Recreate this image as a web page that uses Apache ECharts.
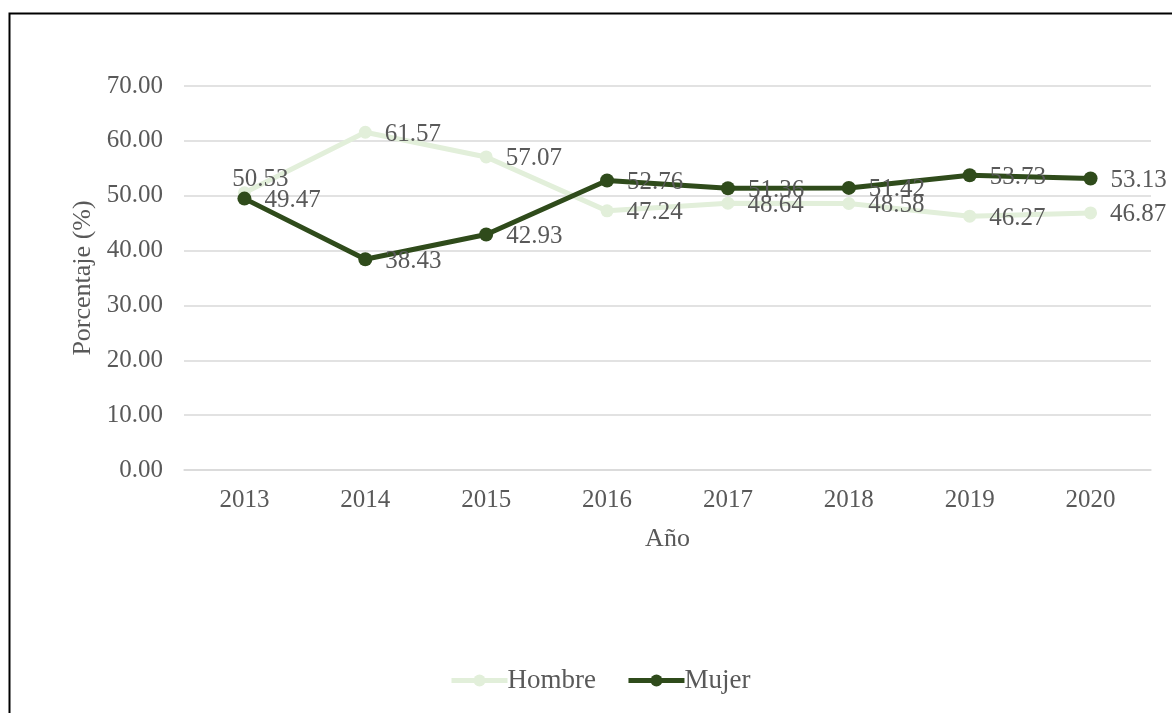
<!DOCTYPE html>
<html><head><meta charset="utf-8">
<script src="https://cdn.jsdelivr.net/npm/echarts@6/dist/echarts.min.js"></script>
<style>html,body{margin:0;padding:0;background:#fff}#c{width:1172px;height:713px}</style>
</head><body><div id="c"></div>
<script>
const years = ['2013','2014','2015','2016','2017','2018','2019','2020'];
const hombre = [50.53, 61.57, 57.07, 47.24, 48.64, 48.58, 46.27, 46.87];
const mujer = [49.47, 38.43, 42.93, 52.76, 51.36, 51.42, 53.73, 53.13];
const seriesNames = ['Hombre', 'Mujer'];
const yTitle = 'Porcentaje (%)';
const xTitle = 'Año';

const FONT = 'Liberation Serif';
const TXT = '#595959';
const LIGHT = '#e2efda';
const DARK = '#2f4b1b';
const FS = 25;
const chart = echarts.init(document.getElementById('c'));
const lbl = {
  show: true, position: 'right', distance: 13, offset: [0, 2],
  fontFamily: FONT, fontSize: FS, color: TXT,
  formatter: p => p.value.toFixed(2)
};
chart.setOption({
  animation: false,
  backgroundColor: '#fff',
  textStyle: { fontFamily: FONT, color: TXT },
  graphic: [{
    type: 'rect', left: 7, top: 11, z: 100, silent: true,
    shape: { width: 1190, height: 720 },
    style: { fill: 'none', stroke: '#000', lineWidth: 2 }
  }],
  grid: { left: 184, right: 21, top: 86, bottom: 243, containLabel: false },
  legend: {
    left: 444, top: 662,
    itemWidth: 56, itemHeight: 15, itemGap: 30,
    lineStyle: { width: 5 },
    textStyle: { fontFamily: FONT, fontSize: 27, color: TXT, padding: [0, 0, 0, -5] },
    data: seriesNames
  },
  xAxis: {
    type: 'category', data: years, boundaryGap: true,
    name: xTitle, nameLocation: 'middle', nameGap: 56,
    nameTextStyle: { fontFamily: FONT, fontSize: 26, color: TXT },
    axisLine: { show: true, lineStyle: { color: '#d9d9d9', width: 1.5 } },
    axisTick: { show: false },
    axisLabel: { fontFamily: FONT, fontSize: FS, color: TXT, margin: 18 }
  },
  yAxis: {
    type: 'value', min: 0, max: 70, interval: 10,
    name: yTitle, nameLocation: 'middle', nameGap: 86, nameRotate: 90,
    nameTextStyle: { fontFamily: FONT, fontSize: 26, color: TXT },
    axisLine: { show: false }, axisTick: { show: false },
    axisLabel: { fontFamily: FONT, fontSize: FS, color: TXT, margin: 21,
      formatter: v => v.toFixed(2) },
    splitLine: { lineStyle: { color: '#d9d9d9', width: 1.5 } }
  },
  series: [
    {
      name: seriesNames[0], type: 'line',
      data: hombre.map((v, i) => i === 0 ? { value: v, label: { position: 'top', distance: 1, offset: [16, 7] } } : v),
      symbol: 'circle', symbolSize: 13, z: 2,
      lineStyle: { color: LIGHT, width: 5 },
      itemStyle: { color: LIGHT },
      label: lbl,
      emphasis: { disabled: true }
    },
    {
      name: seriesNames[1], type: 'line', data: mujer,
      symbol: 'circle', symbolSize: 14, z: 3,
      lineStyle: { color: DARK, width: 5 },
      itemStyle: { color: DARK },
      label: lbl,
      emphasis: { disabled: true }
    }
  ]
});
</script></body></html>
